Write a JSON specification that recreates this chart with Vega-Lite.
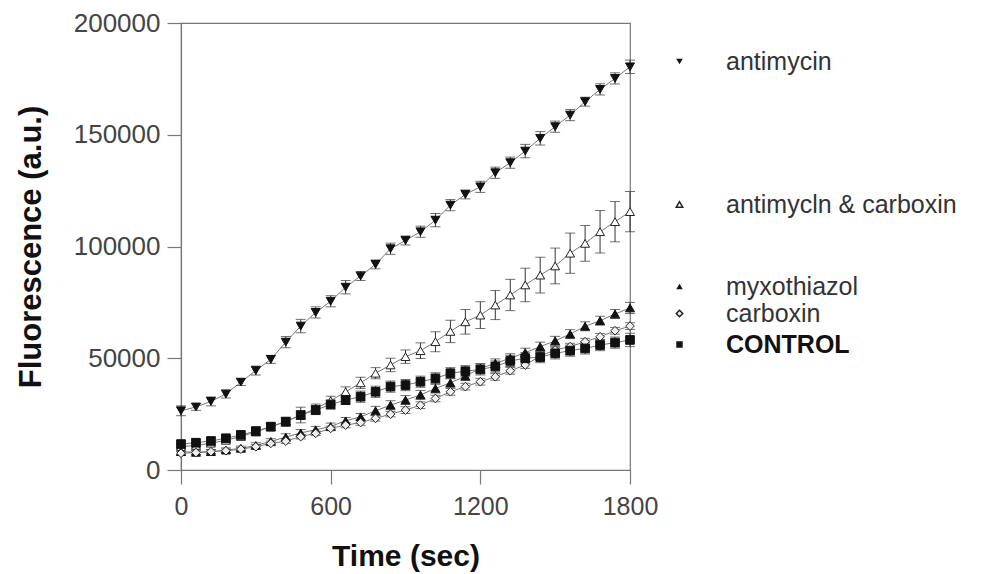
{
"$schema": "https://vega.github.io/schema/vega-lite/v6.json",
"width": 449, "height": 447,
"autosize": {"type": "none"},
"padding": {"left": 181, "top": 23, "right": 365, "bottom": 104},
"background": "white",
"config": {
 "font": "Liberation Sans",
 "view": {"stroke": "#777", "strokeWidth": 1.2},
 "axis": {"grid": false, "domainColor": "#777", "domainWidth": 1.2, "tickColor": "#777", "tickWidth": 1.2, "tickSize": 14,
  "labelFont": "Liberation Sans", "labelFontSize": 25, "labelColor": "#444",
  "titleFont": "Liberation Sans", "titleFontSize": 30, "titleFontWeight": "bold", "titleColor": "#111"},
 "legend": {"labelFont": "Liberation Sans", "labelFontSize": 25, "labelColor": "#333", "labelLimit": 400, "padding": 0, "symbolSize": 42, "labelOffset": 34, "title": null}
},
"data": {"values": [
{"s":"antimycin","t":0,"v":26500,"e":2200},{"s":"antimycin","t":60,"v":28200,"e":1500},{"s":"antimycin","t":120,"v":30700,"e":2000},{"s":"antimycin","t":180,"v":34000,"e":1800},{"s":"antimycin","t":240,"v":39300,"e":1500},{"s":"antimycin","t":300,"v":44500,"e":2000},{"s":"antimycin","t":360,"v":49500,"e":1800},{"s":"antimycin","t":420,"v":57200,"e":2500},{"s":"antimycin","t":480,"v":64400,"e":3000},{"s":"antimycin","t":540,"v":70500,"e":2500},{"s":"antimycin","t":600,"v":75500,"e":2500},{"s":"antimycin","t":660,"v":81800,"e":3000},{"s":"antimycin","t":720,"v":86800,"e":2000},{"s":"antimycin","t":780,"v":92000,"e":2000},{"s":"antimycin","t":840,"v":99000,"e":2500},{"s":"antimycin","t":900,"v":102700,"e":2000},{"s":"antimycin","t":960,"v":106600,"e":2500},{"s":"antimycin","t":1020,"v":111800,"e":3000},{"s":"antimycin","t":1080,"v":118500,"e":2500},{"s":"antimycin","t":1140,"v":123300,"e":2000},{"s":"antimycin","t":1200,"v":126700,"e":2500},{"s":"antimycin","t":1260,"v":133000,"e":2500},{"s":"antimycin","t":1320,"v":137500,"e":2500},{"s":"antimycin","t":1380,"v":142700,"e":3000},{"s":"antimycin","t":1440,"v":148400,"e":3000},{"s":"antimycin","t":1500,"v":153600,"e":2500},{"s":"antimycin","t":1560,"v":158800,"e":2500},{"s":"antimycin","t":1620,"v":164800,"e":2000},{"s":"antimycin","t":1680,"v":170300,"e":2500},{"s":"antimycin","t":1740,"v":175200,"e":2500},{"s":"antimycin","t":1800,"v":180400,"e":3000},
{"s":"antimycln & carboxin","t":0,"v":10500,"e":1000},{"s":"antimycln & carboxin","t":60,"v":11000,"e":1000},{"s":"antimycln & carboxin","t":120,"v":12000,"e":1000},{"s":"antimycln & carboxin","t":180,"v":13300,"e":1200},{"s":"antimycln & carboxin","t":240,"v":15000,"e":1200},{"s":"antimycln & carboxin","t":300,"v":17000,"e":1500},{"s":"antimycln & carboxin","t":360,"v":19300,"e":1500},{"s":"antimycln & carboxin","t":420,"v":21800,"e":1500},{"s":"antimycln & carboxin","t":480,"v":24500,"e":1800},{"s":"antimycln & carboxin","t":540,"v":27500,"e":2000},{"s":"antimycln & carboxin","t":600,"v":31000,"e":2000},{"s":"antimycln & carboxin","t":660,"v":35000,"e":2200},{"s":"antimycln & carboxin","t":720,"v":39000,"e":2500},{"s":"antimycln & carboxin","t":780,"v":43300,"e":2500},{"s":"antimycln & carboxin","t":840,"v":47000,"e":3000},{"s":"antimycln & carboxin","t":900,"v":50700,"e":3000},{"s":"antimycln & carboxin","t":960,"v":53400,"e":3500},{"s":"antimycln & carboxin","t":1020,"v":57400,"e":4500},{"s":"antimycln & carboxin","t":1080,"v":62000,"e":5000},{"s":"antimycln & carboxin","t":1140,"v":66300,"e":5500},{"s":"antimycln & carboxin","t":1200,"v":69300,"e":6000},{"s":"antimycln & carboxin","t":1260,"v":73800,"e":6500},{"s":"antimycln & carboxin","t":1320,"v":78300,"e":7000},{"s":"antimycln & carboxin","t":1380,"v":82800,"e":7500},{"s":"antimycln & carboxin","t":1440,"v":87200,"e":8000},{"s":"antimycln & carboxin","t":1500,"v":91300,"e":8000},{"s":"antimycln & carboxin","t":1560,"v":97000,"e":9000},{"s":"antimycln & carboxin","t":1620,"v":101400,"e":8000},{"s":"antimycln & carboxin","t":1680,"v":106600,"e":9500},{"s":"antimycln & carboxin","t":1740,"v":111100,"e":9000},{"s":"antimycln & carboxin","t":1800,"v":115600,"e":9000},
{"s":"myxothiazol","t":0,"v":8200,"e":1200},{"s":"myxothiazol","t":60,"v":7900,"e":1000},{"s":"myxothiazol","t":120,"v":8200,"e":1000},{"s":"myxothiazol","t":180,"v":8900,"e":1000},{"s":"myxothiazol","t":240,"v":9700,"e":1000},{"s":"myxothiazol","t":300,"v":11000,"e":1200},{"s":"myxothiazol","t":360,"v":12800,"e":1200},{"s":"myxothiazol","t":420,"v":14700,"e":1500},{"s":"myxothiazol","t":480,"v":16600,"e":1500},{"s":"myxothiazol","t":540,"v":18000,"e":1500},{"s":"myxothiazol","t":600,"v":19500,"e":1500},{"s":"myxothiazol","t":660,"v":22000,"e":1500},{"s":"myxothiazol","t":720,"v":23800,"e":1500},{"s":"myxothiazol","t":780,"v":26500,"e":2000},{"s":"myxothiazol","t":840,"v":29000,"e":2000},{"s":"myxothiazol","t":900,"v":31300,"e":2000},{"s":"myxothiazol","t":960,"v":33600,"e":2000},{"s":"myxothiazol","t":1020,"v":36500,"e":2000},{"s":"myxothiazol","t":1080,"v":39000,"e":2000},{"s":"myxothiazol","t":1140,"v":42000,"e":2000},{"s":"myxothiazol","t":1200,"v":45500,"e":2000},{"s":"myxothiazol","t":1260,"v":47700,"e":2000},{"s":"myxothiazol","t":1320,"v":50000,"e":2000},{"s":"myxothiazol","t":1380,"v":52500,"e":2000},{"s":"myxothiazol","t":1440,"v":55200,"e":2000},{"s":"myxothiazol","t":1500,"v":57800,"e":2000},{"s":"myxothiazol","t":1560,"v":60800,"e":2000},{"s":"myxothiazol","t":1620,"v":64300,"e":2000},{"s":"myxothiazol","t":1680,"v":66800,"e":2000},{"s":"myxothiazol","t":1740,"v":69800,"e":2000},{"s":"myxothiazol","t":1800,"v":72500,"e":2500},
{"s":"carboxin","t":0,"v":7500,"e":800},{"s":"carboxin","t":60,"v":7800,"e":800},{"s":"carboxin","t":120,"v":8200,"e":800},{"s":"carboxin","t":180,"v":8600,"e":800},{"s":"carboxin","t":240,"v":9300,"e":800},{"s":"carboxin","t":300,"v":10400,"e":1000},{"s":"carboxin","t":360,"v":11900,"e":1000},{"s":"carboxin","t":420,"v":12900,"e":1000},{"s":"carboxin","t":480,"v":14900,"e":1000},{"s":"carboxin","t":540,"v":16400,"e":1000},{"s":"carboxin","t":600,"v":18600,"e":1000},{"s":"carboxin","t":660,"v":20100,"e":1200},{"s":"carboxin","t":720,"v":21200,"e":1200},{"s":"carboxin","t":780,"v":23100,"e":1200},{"s":"carboxin","t":840,"v":25000,"e":1200},{"s":"carboxin","t":900,"v":26800,"e":1500},{"s":"carboxin","t":960,"v":29000,"e":1500},{"s":"carboxin","t":1020,"v":32000,"e":1500},{"s":"carboxin","t":1080,"v":35000,"e":1500},{"s":"carboxin","t":1140,"v":37300,"e":1500},{"s":"carboxin","t":1200,"v":39500,"e":1500},{"s":"carboxin","t":1260,"v":41700,"e":1500},{"s":"carboxin","t":1320,"v":44400,"e":1500},{"s":"carboxin","t":1380,"v":47000,"e":1500},{"s":"carboxin","t":1440,"v":51000,"e":1500},{"s":"carboxin","t":1500,"v":53700,"e":1500},{"s":"carboxin","t":1560,"v":55200,"e":1500},{"s":"carboxin","t":1620,"v":57400,"e":1500},{"s":"carboxin","t":1680,"v":59600,"e":1500},{"s":"carboxin","t":1740,"v":62300,"e":1500},{"s":"carboxin","t":1800,"v":64400,"e":1500},
{"s":"CONTROL","t":0,"v":11600,"e":1500},{"s":"CONTROL","t":60,"v":12200,"e":1500},{"s":"CONTROL","t":120,"v":13000,"e":1500},{"s":"CONTROL","t":180,"v":14200,"e":1500},{"s":"CONTROL","t":240,"v":15700,"e":1500},{"s":"CONTROL","t":300,"v":17400,"e":1800},{"s":"CONTROL","t":360,"v":19400,"e":1800},{"s":"CONTROL","t":420,"v":21600,"e":2000},{"s":"CONTROL","t":480,"v":24600,"e":3500},{"s":"CONTROL","t":540,"v":26800,"e":2000},{"s":"CONTROL","t":600,"v":29300,"e":2000},{"s":"CONTROL","t":660,"v":31300,"e":2000},{"s":"CONTROL","t":720,"v":32800,"e":2500},{"s":"CONTROL","t":780,"v":35000,"e":2500},{"s":"CONTROL","t":840,"v":37300,"e":2500},{"s":"CONTROL","t":900,"v":38000,"e":2500},{"s":"CONTROL","t":960,"v":39500,"e":2500},{"s":"CONTROL","t":1020,"v":41000,"e":2500},{"s":"CONTROL","t":1080,"v":43300,"e":2500},{"s":"CONTROL","t":1140,"v":44200,"e":2500},{"s":"CONTROL","t":1200,"v":45000,"e":2500},{"s":"CONTROL","t":1260,"v":46300,"e":2500},{"s":"CONTROL","t":1320,"v":48800,"e":2500},{"s":"CONTROL","t":1380,"v":50000,"e":2500},{"s":"CONTROL","t":1440,"v":50500,"e":2500},{"s":"CONTROL","t":1500,"v":52200,"e":2500},{"s":"CONTROL","t":1560,"v":53400,"e":2500},{"s":"CONTROL","t":1620,"v":54400,"e":2500},{"s":"CONTROL","t":1680,"v":55900,"e":2500},{"s":"CONTROL","t":1740,"v":57000,"e":2500},{"s":"CONTROL","t":1800,"v":58200,"e":3000}
]},
"encoding": {
 "x": {"field": "t", "type": "quantitative", "scale": {"domain": [0, 1800], "nice": false},
  "axis": {"values": [0, 600, 1200, 1800], "format": "d", "title": "Time (sec)", "labelPadding": 10, "titlePadding": 22, "labelFlush": false}},
 "y": {"field": "v", "type": "quantitative", "scale": {"domain": [0, 200000], "nice": false},
  "axis": {"values": [0, 50000, 100000, 150000, 200000], "format": "d", "title": "Fluorescence (a.u.)", "labelPadding": 7, "labelFontSize": 26, "titleFontSize": 31, "titlePadding": 26, "labelFlush": false}}
},
"layer": [
 {"mark": {"type": "line", "color": "#777", "strokeWidth": 1}, "encoding": {"detail": {"field": "s"}}},
 {"mark": {"type": "errorbar", "ticks": true, "size": 10, "thickness": 1, "color": "#333"}, "encoding": {"yError": {"field": "e"}}},
 {"transform": [{"filter": {"field": "s", "equal": "antimycin"}}],
  "mark": {"type": "point", "filled": true, "fill": "#111", "stroke": "#111", "strokeWidth": 1, "size": 80, "opacity": 1},
  "encoding": {"shape": {"field": "s", "type": "nominal", "scale": {"range": ["triangle-down"]},
   "legend": {"orient": "none", "legendX": 486, "legendY": 26, "symbolFillColor": "#111", "symbolStrokeColor": "#111"}}}},
 {"transform": [{"filter": {"field": "s", "equal": "antimycln & carboxin"}}],
  "mark": {"type": "point", "filled": false, "fill": "white", "stroke": "#222", "strokeWidth": 1, "size": 80, "opacity": 1},
  "encoding": {"shape": {"field": "s", "type": "nominal", "scale": {"range": ["triangle-up"]},
   "legend": {"orient": "none", "legendX": 486, "legendY": 169,
    "encode": {"symbols": {"update": {"fill": {"value": "white"}, "stroke": {"value": "#333"}, "strokeWidth": {"value": 1}, "opacity": {"value": 1}}}}}}}},
 {"transform": [{"filter": {"field": "s", "equal": "myxothiazol"}}],
  "mark": {"type": "point", "filled": true, "fill": "#111", "stroke": "#111", "strokeWidth": 1, "size": 80, "opacity": 1},
  "encoding": {"shape": {"field": "s", "type": "nominal", "scale": {"range": ["triangle-up"]},
   "legend": {"orient": "none", "legendX": 486, "legendY": 251, "symbolFillColor": "#111", "symbolStrokeColor": "#111"}}}},
 {"transform": [{"filter": {"field": "s", "equal": "carboxin"}}],
  "mark": {"type": "point", "filled": false, "fill": "#eee", "stroke": "#222", "strokeWidth": 1, "size": 75, "opacity": 1},
  "encoding": {"shape": {"field": "s", "type": "nominal", "scale": {"range": ["diamond"]},
   "legend": {"orient": "none", "legendX": 486, "legendY": 278,
    "encode": {"symbols": {"update": {"fill": {"value": "#bbb"}, "stroke": {"value": "#444"}, "strokeWidth": {"value": 1}, "opacity": {"value": 1}}}}}}}},
 {"transform": [{"filter": {"field": "s", "equal": "CONTROL"}}],
  "mark": {"type": "point", "filled": true, "fill": "#111", "stroke": "#111", "strokeWidth": 1, "size": 75, "opacity": 1},
  "encoding": {"shape": {"field": "s", "type": "nominal", "scale": {"range": ["square"]},
   "legend": {"orient": "none", "legendX": 486, "legendY": 309, "symbolFillColor": "#111", "symbolStrokeColor": "#111", "labelFontWeight": "bold", "labelColor": "#111"}}}}
],
"resolve": {"scale": {"shape": "independent"}, "legend": {"shape": "independent"}}
}
